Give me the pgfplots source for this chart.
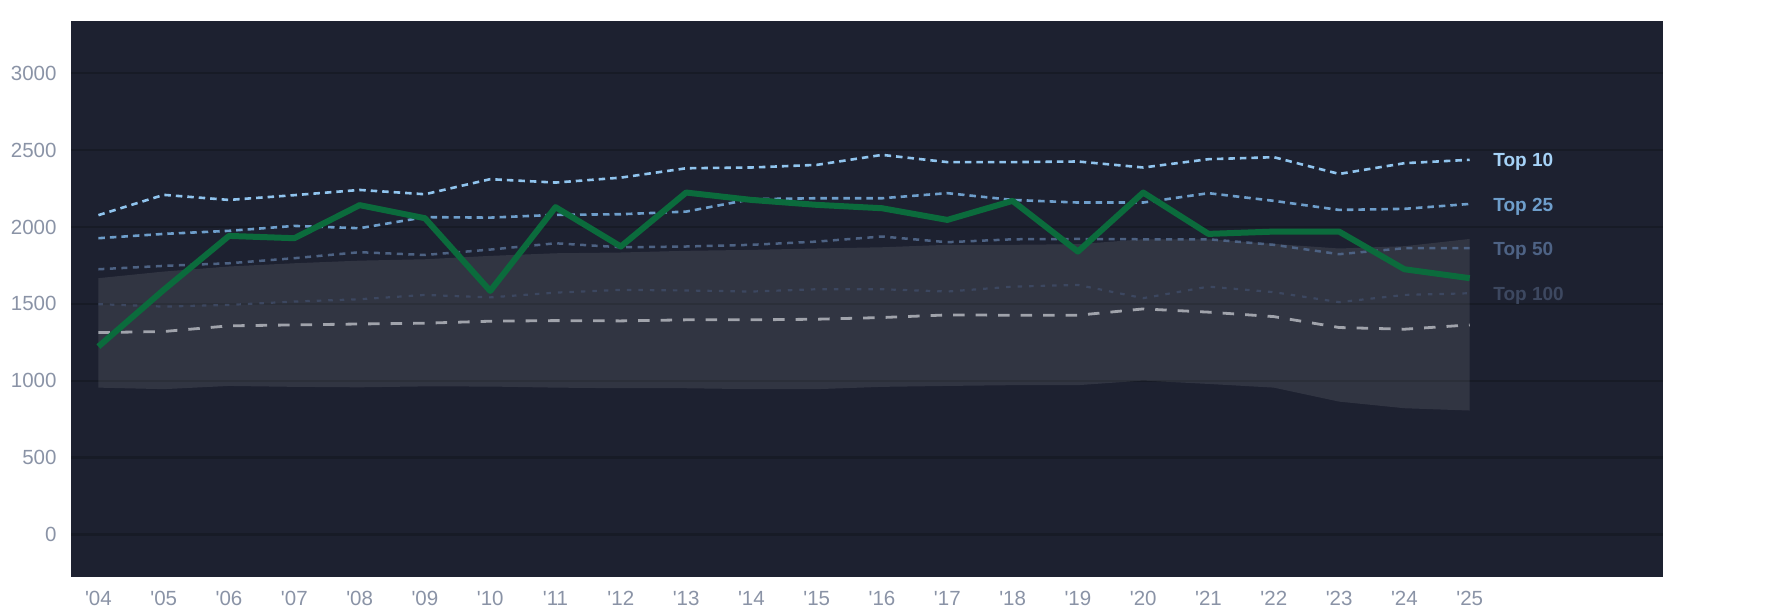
\documentclass[border=0pt]{standalone}
\usepackage{fontspec}
\setmainfont{Liberation Sans}
\usepackage{pgfplots}
\pgfplotsset{compat=1.18}
\usepackage{pgfplotstable}
\usepgfplotslibrary{fillbetween}

\definecolor{bgc}{HTML}{1D2130}
\definecolor{gridc}{HTML}{171B26}
\definecolor{tickc}{HTML}{8A93A6}
\definecolor{greenc}{HTML}{0B6B3C}
\definecolor{tten}{HTML}{90C4EE}
\definecolor{ttwf}{HTML}{6E9ECB}
\definecolor{tfif}{HTML}{4D6283}
\definecolor{thun}{HTML}{3C4760}
\definecolor{medc}{HTML}{A0A3AB}
\definecolor{ltten}{HTML}{A5D2F7}
\definecolor{lttwf}{HTML}{6E9ECB}
\definecolor{ltfif}{HTML}{4E6385}
\definecolor{lthun}{HTML}{3D4860}

\pgfplotstableread{
x  g     t10   t25   t50   t100  med   lo    hi
0  1222  2077  1927  1725  1498  1313  955   1667
1  1591  2209  1955  1747  1482  1320  945   1710
2  1942  2176  1975  1764  1493  1357  966   1743
3  1927  2207  2007  1797  1515  1363  960   1764
4  2142  2241  1992  1836  1530  1369  957   1781
5  2057  2213  2064  1818  1558  1374  963   1790
6  1584  2311  2061  1853  1542  1387  962   1812
7  2129  2289  2079  1894  1573  1391  955   1829
8  1873  2321  2083  1868  1591  1389  951   1834
9  2224  2382  2100  1873  1587  1396  951   1845
10 2176  2387  2181  1884  1580  1396  945   1851
11 2144  2404  2187  1905  1595  1400  945   1860
12 2122  2469  2187  1938  1595  1411  960   1868
13 2046  2422  2220  1901  1580  1428  966   1884
14 2170  2422  2176  1920  1612  1426  971   1884
15 1840  2426  2159  1922  1623  1426  971   1888
16 2224  2387  2159  1920  1537  1467  1001  1920
17 1955  2441  2220  1920  1612  1446  979   1920
18 1970  2454  2170  1884  1576  1417  955   1890
19 1970  2345  2111  1823  1511  1346  864   1860
20 1725  2415  2118  1862  1558  1335  821   1875
21 1667  2437  2150  1862  1569  1363  806   1922
}\data

\begin{document}%
\pagecolor{white}%
\begin{tikzpicture}
\path (0,0) rectangle (1785pt,614pt);
\begin{axis}[
  at={(71pt,37.3pt)}, anchor=south west,
  scale only axis, width=1592pt, height=555.7pt,
  xmin=-0.42, xmax=23.96, ymin=-275, ymax=3340,
  axis background/.style={fill=bgc},
  axis line style={draw=none},
  major tick length=0pt,
  ytick={0,500,...,3000},
  xtick={0,...,21},
  xticklabels={\textquotesingle04,\textquotesingle05,\textquotesingle06,\textquotesingle07,\textquotesingle08,\textquotesingle09,\textquotesingle10,\textquotesingle11,\textquotesingle12,\textquotesingle13,\textquotesingle14,\textquotesingle15,\textquotesingle16,\textquotesingle17,\textquotesingle18,\textquotesingle19,\textquotesingle20,\textquotesingle21,\textquotesingle22,\textquotesingle23,\textquotesingle24,\textquotesingle25},
  ymajorgrids,
  grid style={draw=gridc, line width=2.2pt},
  /pgf/number format/assume math mode=true,
  /pgf/number format/1000 sep={},
  ticklabel style={font=\fontsize{20.5}{24}\selectfont, text=tickc},
  yticklabel style={anchor=east, inner sep=0pt, xshift=-14.3pt},
  xticklabel style={anchor=north, inner sep=0pt, yshift=-14pt},
  clip=false,
]
\addplot[name path=lo, draw=none, forget plot] table[x=x, y=lo] {\data};
\addplot[name path=hi, draw=none, forget plot] table[x=x, y=hi] {\data};
\addplot[fill=white, fill opacity=0.09, draw=none] fill between[of=hi and lo];

\addplot[thun, line width=2.2pt, dash pattern=on 4.5pt off 7pt] table[x=x, y=t100] {\data};
\addplot[tfif, line width=2.5pt, dash pattern=on 6pt off 5.5pt] table[x=x, y=t50] {\data};
\addplot[ttwf, line width=2.6pt, dash pattern=on 6.5pt off 5pt] table[x=x, y=t25] {\data};
\addplot[tten, line width=2.6pt, dash pattern=on 6.5pt off 5pt] table[x=x, y=t10] {\data};
\addplot[medc, line width=2.8pt, dash pattern=on 11.5pt off 11pt] table[x=x, y=med] {\data};
\addplot[greenc, line width=6pt, line join=round] table[x=x, y=g] {\data};

\node[anchor=west, inner sep=0pt, yshift=-2.5pt, text=ltten, font=\fontsize{19}{23}\selectfont\bfseries] at (axis cs:21.36,2437) {Top 10};
\node[anchor=west, inner sep=0pt, yshift=-2.5pt, text=lttwf, font=\fontsize{19}{23}\selectfont\bfseries] at (axis cs:21.36,2150) {Top 25};
\node[anchor=west, inner sep=0pt, yshift=-2.5pt, text=ltfif, font=\fontsize{19}{23}\selectfont\bfseries] at (axis cs:21.36,1862) {Top 50};
\node[anchor=west, inner sep=0pt, yshift=-2.5pt, text=lthun, font=\fontsize{19}{23}\selectfont\bfseries] at (axis cs:21.36,1569) {Top 100};
\end{axis}
\pgfresetboundingbox
\path[use as bounding box] (0,0) rectangle (1785pt,614pt);
\end{tikzpicture}%
\end{document}
